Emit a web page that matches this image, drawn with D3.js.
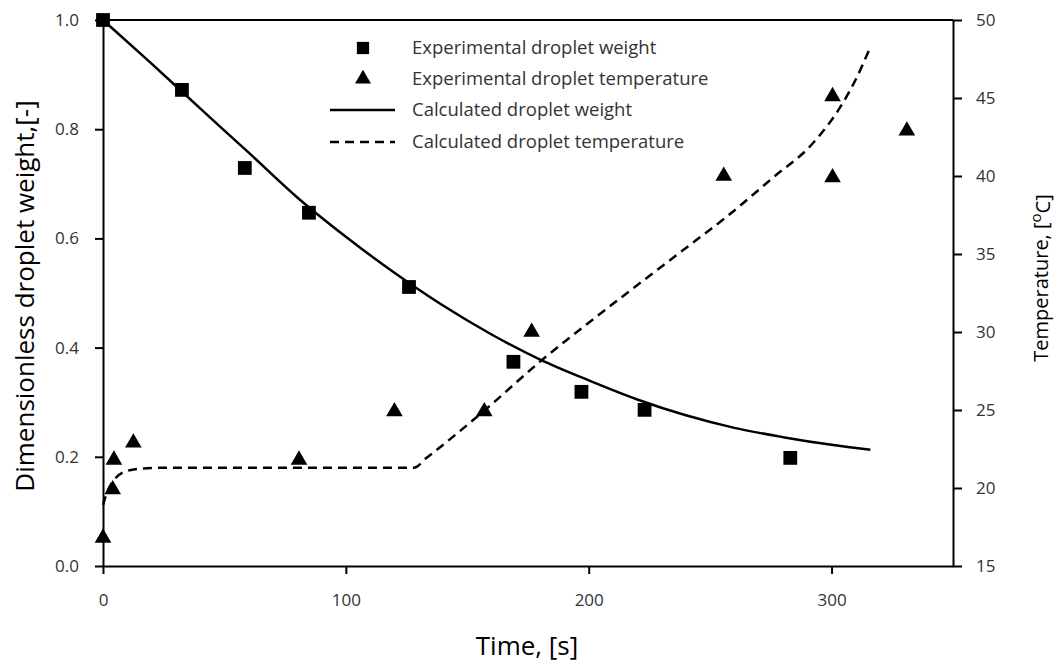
<!DOCTYPE html>
<html>
<head>
<meta charset="utf-8">
<script src="https://cdn.jsdelivr.net/npm/d3@7"></script>
<style>
  html, body { margin: 0; padding: 0; background: #fff; }
  svg { display: block; }
  text { font-family: "Open Sans", "Noto Sans", sans-serif; }
</style>
</head>
<body>
<svg id="chart" width="1057" height="664"></svg>
<script>
// ---- Data ----
const expWeightTime = [0, 32.5, 58.4, 84.8, 126, 169, 197, 223, 283];
const expWeightValue = [1.0, 0.872, 0.729, 0.647, 0.511, 0.374, 0.319, 0.286, 0.198];

const expTempTime = [0, 4, 4.5, 12.5, 80.7, 120, 157, 176.5, 255.6, 300.4, 300.4, 331];
const expTempValue = [16.8, 19.9, 21.8, 22.9, 21.8, 24.9, 24.9, 30.0, 40.0, 45.1, 39.9, 42.9];

const calcWeightTime = [0, 20, 40, 60, 80, 100, 120, 140, 160, 180, 200, 220, 240, 260, 280, 300, 316];
const calcWeightValue = [1.0, 0.92, 0.838, 0.757, 0.675, 0.603, 0.537, 0.477, 0.424, 0.378, 0.340, 0.305, 0.276, 0.253, 0.236, 0.222, 0.213];

const calcTempTime = [0, 1.6, 5, 10, 16, 25, 128, 133, 157.3, 180.7, 193.5, 215.8, 237.6, 256.9, 275.9, 292.3, 304.7, 310, 315.8];
const calcTempValue = [18.9, 19.7, 20.6, 21.1, 21.25, 21.3, 21.3, 21.9, 25.0, 28.2, 29.8, 32.5, 35.1, 37.4, 39.9, 42.1, 44.7, 46.2, 48.2];

const xTicks = [0, 100, 200, 300];
const yLeftTicks = [0.0, 0.2, 0.4, 0.6, 0.8, 1.0];
const yRightTicks = [15, 20, 25, 30, 35, 40, 45, 50];

const legendLabels = ["Experimental droplet weight", "Experimental droplet temperature", "Calculated droplet weight", "Calculated droplet temperature"];

// ---- Layout ----
const svg = d3.select("#chart");
const pLeft = 103, pRight = 953, pTop = 20, pBottom = 566;

const x = d3.scaleLinear().domain([0, 350]).range([pLeft, pRight]);
const yL = d3.scaleLinear().domain([0, 1]).range([pBottom, pTop]);
const yR = d3.scaleLinear().domain([15, 50]).range([pBottom, pTop]);

const textColor = "#333";

// top border
svg.append("line").attr("x1", pLeft).attr("x2", pRight).attr("y1", pTop).attr("y2", pTop)
  .attr("stroke", "#000").attr("stroke-width", 2);

// axes
const xAxis = svg.append("g").attr("transform", `translate(0,${pBottom})`)
  .call(d3.axisBottom(x).tickValues(xTicks).tickFormat(d3.format("d")).tickSize(8).tickPadding(20).tickSizeOuter(0));
const yAxisL = svg.append("g").attr("transform", `translate(${pLeft},0)`)
  .call(d3.axisLeft(yL).tickValues(yLeftTicks).tickFormat(d3.format(".1f")).tickSize(8).tickPadding(16).tickSizeOuter(0));
const yAxisR = svg.append("g").attr("transform", `translate(${pRight},0)`)
  .call(d3.axisRight(yR).tickValues(yRightTicks).tickFormat(d3.format("d")).tickSize(9).tickPadding(14).tickSizeOuter(0));

[xAxis, yAxisL, yAxisR].forEach(g => {
  g.select(".domain").attr("stroke", "#000").attr("stroke-width", 2);
  g.selectAll(".tick line").attr("stroke", "#000").attr("stroke-width", 2);
  g.selectAll(".tick text").attr("fill", textColor).style("font-size", "17px")
    .style("font-family", "'Open Sans', 'Noto Sans', sans-serif");
});

// ---- Lines ----
const calcW = calcWeightTime.map((t, i) => [t, calcWeightValue[i]]);
const calcT = calcTempTime.map((t, i) => [t, calcTempValue[i]]);

svg.append("path").datum(calcW)
  .attr("d", d3.line().x(d => x(d[0])).y(d => yL(d[1])).curve(d3.curveMonotoneX))
  .attr("fill", "none").attr("stroke", "#000").attr("stroke-width", 2.5);

svg.append("path").datum(calcT)
  .attr("d", d3.line().x(d => x(d[0])).y(d => yR(d[1])).curve(d3.curveMonotoneX))
  .attr("fill", "none").attr("stroke", "#000").attr("stroke-width", 2.5)
  .attr("stroke-dasharray", "9,6");

// ---- Markers ----
const sq = d3.symbol().type(d3.symbolSquare).size(190);
const tri = d3.symbol().type(d3.symbolTriangle).size(120);

svg.append("g").selectAll("path").data(expWeightTime.map((t, i) => [t, expWeightValue[i]]))
  .join("path").attr("d", sq)
  .attr("transform", d => `translate(${x(d[0])},${yL(d[1])})`)
  .attr("fill", "#000");

svg.append("g").selectAll("path").data(expTempTime.map((t, i) => [t, expTempValue[i]]))
  .join("path").attr("d", tri)
  .attr("transform", d => `translate(${x(d[0])},${yR(d[1])})`)
  .attr("fill", "#000");

// ---- Legend ----
const lg = svg.append("g");
const ly = [48, 79, 110, 142];
lg.append("path").attr("d", d3.symbol().type(d3.symbolSquare).size(150)).attr("transform", `translate(363,${ly[0]})`).attr("fill", "#000");
lg.append("path").attr("d", d3.symbol().type(d3.symbolTriangle).size(110)).attr("transform", `translate(363,${ly[1]})`).attr("fill", "#000");
lg.append("line").attr("x1", 330).attr("x2", 395).attr("y1", ly[2]).attr("y2", ly[2]).attr("stroke", "#000").attr("stroke-width", 2.5);
lg.append("line").attr("x1", 330).attr("x2", 395).attr("y1", ly[3]).attr("y2", ly[3]).attr("stroke", "#000").attr("stroke-width", 2.5).attr("stroke-dasharray", "9,6");
legendLabels.forEach((s, i) => {
  lg.append("text").attr("x", 412).attr("y", ly[i]).attr("dy", "0.35em")
    .attr("fill", textColor).style("font-size", "18.5px").text(s);
});

// ---- Axis titles ----
svg.append("text").attr("transform", `translate(34,296) rotate(-90)`)
  .attr("text-anchor", "middle").attr("fill", "#000").style("font-size", "26px")
  .text("Dimensionless droplet weight,[-]");

const rt = svg.append("text").attr("transform", `translate(1048,278) rotate(-90)`)
  .attr("text-anchor", "middle").attr("fill", "#000").style("font-size", "20px");
rt.append("tspan").text("Temperature, [");
rt.append("tspan").attr("dy", "-0.45em").style("font-size", "15px").text("o");
rt.append("tspan").attr("dy", "0.45em").text("C]");

svg.append("text").attr("x", 527).attr("y", 655).attr("text-anchor", "middle")
  .attr("fill", "#000").style("font-size", "26px").text("Time, [s]");
</script>
</body>
</html>
